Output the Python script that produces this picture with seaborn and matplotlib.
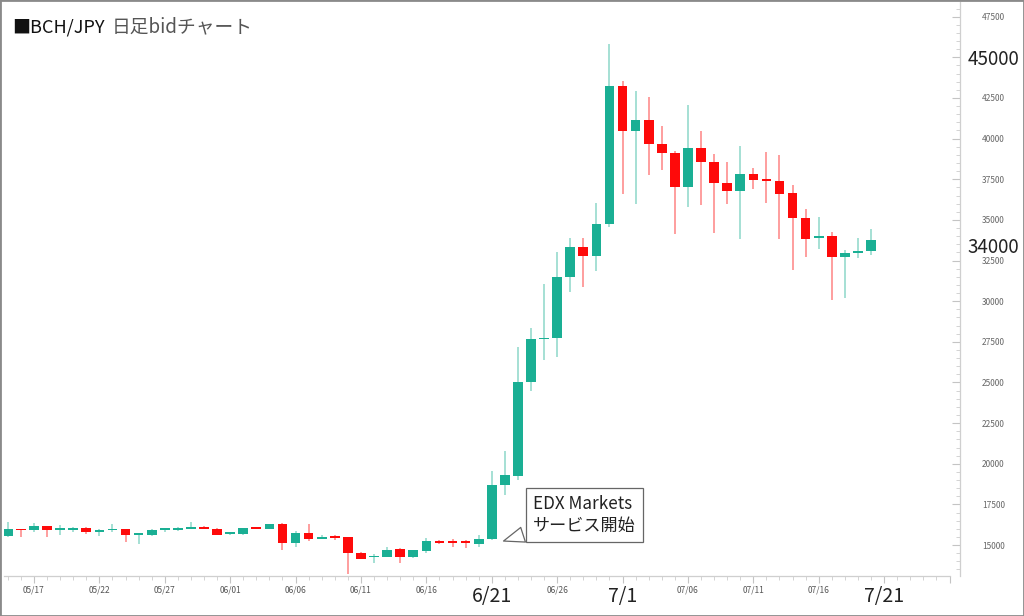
import numpy as np
import pandas as pd
import matplotlib
matplotlib.use('Agg')
import matplotlib.pyplot as plt
import matplotlib.dates as mdates
from matplotlib.ticker import MultipleLocator
from matplotlib.patches import Rectangle
import seaborn as sns

# BCH/JPY daily bid candles, 2023-05-15 .. 2023-07-20
dates = pd.date_range('2023-05-15', periods=67, freq='D')
opens = [15550, 15980, 15900, 16180, 15920, 15940, 16080, 15800, 15900, 16000,
         15630, 15630, 15920, 15940, 16000, 16120, 16020, 15690, 15690, 16060,
         16000, 16310, 15100, 15760, 15390, 15450, 15470, 14530, 14250, 14290,
         14740, 14250, 14650, 15270, 15160, 15140, 15080, 15350, 18670, 19280,
         25000, 27650, 27750, 31480, 33340, 32750, 34730, 43210, 40460, 41170,
         39660, 39130, 37010, 39440, 38560, 37240, 36790, 37850, 37480, 37400,
         36640, 35090, 33870, 33990, 32690, 32970, 33070]
highs = [16430, 16020, 16330, 16200, 16220, 16120, 16120, 15960, 16290, 16020,
         15710, 15960, 16000, 16120, 16450, 16180, 16040, 15820, 16080, 16080,
         16310, 16330, 15880, 16290, 15610, 15610, 15490, 14550, 14450, 14900,
         14800, 14690, 15410, 15310, 15350, 15310, 15610, 19550, 20810, 27200,
         28360, 31080, 33010, 33910, 33870, 36010, 45800, 43560, 42950, 42540,
         40750, 39220, 42070, 40440, 39070, 38560, 39520, 38200, 39170, 38970,
         37130, 35670, 35200, 34240, 33120, 33870, 34440]
lows = [15510, 15510, 15820, 15470, 15610, 15820, 15710, 15570, 15820, 15180,
        15040, 15570, 15780, 15860, 15960, 15960, 15630, 15610, 15650, 15980,
        15980, 14690, 14900, 15270, 15370, 15290, 13230, 14120, 13880, 14250,
        13920, 14180, 14530, 15060, 14900, 14800, 14860, 15310, 18060, 19020,
        24450, 26360, 26570, 30570, 30890, 31830, 34580, 36620, 35950, 37790,
        38050, 34140, 35770, 35910, 34180, 35950, 33830, 36930, 36050, 33830,
        31930, 32710, 33220, 30100, 30200, 32650, 32850]
closes = [15960, 15900, 16180, 15920, 15940, 16060, 15780, 15900, 16000, 15630,
          15690, 15920, 15960, 15980, 16120, 16020, 15650, 15740, 16060, 16000,
          16290, 15100, 15760, 15390, 15450, 15420, 14530, 14160, 14290, 14690,
          14250, 14670, 15270, 15120, 15140, 15120, 15350, 18710, 19330, 25000,
          27650, 27710, 31480, 33340, 32750, 34750, 43210, 40460, 41170, 39640,
          39110, 37010, 39440, 38540, 37240, 36750, 37850, 37480, 37400, 36620,
          35090, 33850, 33990, 32690, 32970, 33100, 33790]

xtick_dates = pd.date_range('2023-05-17', '2023-07-26', freq='5D')
xtick_labels = ['05/17', '05/22', '05/27', '06/01', '06/06', '06/11', '06/16',
                '6/21', '06/26', '7/1', '07/06', '07/11', '07/16', '7/21', '']
big_xlabels = ['6/21', '7/1', '7/21']
yticks = list(range(15000, 47501, 2500))
big_ylabel = 45000
extra_ylabel = '34000'

UP = '#1aaf94'
DOWN = '#fe0a0a'

sns.set_theme(style='white')
plt.rcParams['font.family'] = ['Noto Sans CJK JP', 'DejaVu Sans']

df = pd.DataFrame({'date': dates, 'open': opens, 'high': highs,
                   'low': lows, 'close': closes})
df['up'] = df['close'] >= df['open']

fig = plt.figure(figsize=(10.24, 6.16), dpi=100)
ax = fig.add_axes([4 / 1024, 40 / 616, 956 / 1024, 574 / 616])

x = mdates.date2num(df['date'])
colors = np.where(df['up'], UP, DOWN)
ax.vlines(x, df['low'], df['high'], colors=colors, lw=1.1, alpha=0.5, zorder=2)
body = np.maximum((df['close'] - df['open']).abs(), 110)
ax.bar(x, body, bottom=np.minimum(df['open'], df['close']), width=0.74,
       color=colors, lw=0, zorder=3)

d0 = mdates.date2num(pd.Timestamp('2023-05-17'))
ax.set_xlim(d0 - 2.29, d0 + 70.8)
ax.set_ylim(13100, 48400)

ax.set_xticks(mdates.date2num(xtick_dates), labels=xtick_labels)
ax.xaxis.set_minor_locator(mdates.DayLocator())
ax.yaxis.tick_right()
ax.set_yticks(yticks, labels=[str(v) for v in yticks])
ax.yaxis.set_minor_locator(MultipleLocator(500))

for s in ['left', 'top']:
    ax.spines[s].set_visible(False)
for s in ['right', 'bottom']:
    ax.spines[s].set_color('#cfcfcf')
    ax.spines[s].set_linewidth(0.9)
ax.spines['bottom'].set_bounds(d0 - 2.29, mdates.date2num(xtick_dates[-1]))

ax.tick_params(axis='x', which='major', bottom=True, direction='out', length=5,
               width=0.8, color='#c4c4c4', labelsize=6, labelcolor='#555', pad=2)
ax.tick_params(axis='x', which='minor', bottom=True, direction='out', length=3,
               width=0.6, color='#cccccc')
ax.tick_params(axis='y', which='major', left=False, right=True, direction='in',
               length=6, width=0.8, color='#c4c4c4', labelsize=6,
               labelcolor='#666', pad=24)
ax.tick_params(axis='y', which='minor', left=False, right=True, direction='in',
               length=3, width=0.6, color='#cccccc')

for lbl in ax.xaxis.get_majorticklabels():
    if lbl.get_text() in big_xlabels:
        lbl.set_fontsize(14)
        lbl.set_color('#222')
for lbl in ax.yaxis.get_majorticklabels():
    lbl.set_ha('center')
    if lbl.get_text() == str(big_ylabel):
        lbl.set_fontsize(13.5)
        lbl.set_color('#222')

ax.text(1 + 33 / 956, 33300, extra_ylabel, transform=ax.get_yaxis_transform(),
        ha='center', va='center', fontsize=13.5, color='#222')

# callout at EDX Markets launch
tip = mdates.date2num(pd.Timestamp('2023-06-21')) + 0.9
ax.annotate('EDX Markets\nサービス開始', xy=(tip, 15250),
            xytext=(533, 616 - 515), textcoords='figure pixels',
            ha='left', va='center', fontsize=12.3, color='#222', linespacing=1.3,
            bbox=dict(boxstyle='square,pad=0.4', fc='white', ec='#666', lw=0.9),
            arrowprops=dict(arrowstyle='wedge,tail_width=0.9', fc='white',
                            ec='#666', lw=0.9, shrinkB=0),
            zorder=5)

fig.text(12 / 1024, 1 - 27 / 616, '■BCH/JPY', fontsize=13, va='center', color='#111')
fig.text(112 / 1024, 1 - 27 / 616, '日足bidチャート', fontsize=13.5, va='center', color='#555')

fig.patches.append(Rectangle((0, 0), 1, 1, transform=fig.transFigure, fill=False,
                             ec='#8a8a8a', lw=2))

fig.savefig('out.png', dpi=100)
